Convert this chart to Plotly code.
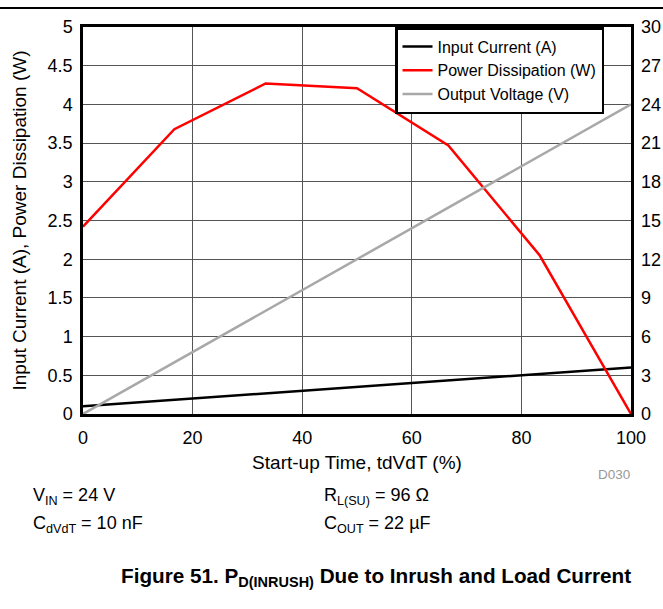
import plotly.graph_objects as go

# Data
t_pct = [0, 16.67, 33.33, 50, 66.67, 83.33, 100]
input_current = [0.10, 0.183, 0.267, 0.35, 0.433, 0.517, 0.60]
power_diss = [2.42, 3.68, 4.27, 4.21, 3.47, 2.05, 0.0]
output_voltage = [0, 4, 8, 12, 16, 20, 24]

left_ticks = [0, 0.5, 1, 1.5, 2, 2.5, 3, 3.5, 4, 4.5, 5]
left_tick_text = ["0", "0.5", "1", "1.5", "2", "2.5", "3", "3.5", "4", "4.5", "5"]
right_ticks = [0, 3, 6, 9, 12, 15, 18, 21, 24, 27, 30]
x_ticks = [0, 20, 40, 60, 80, 100]

FONT = "Liberation Sans, Arial, sans-serif"
W, H = 663, 609
L, R, T, B = 83, 631, 27, 414
pw, ph = R - L, B - T

fig = go.Figure()
fig.add_trace(go.Scatter(x=t_pct, y=input_current, name="Input Current (A)", mode="lines",
                         line=dict(color="black", width=2.5)))
fig.add_trace(go.Scatter(x=t_pct, y=power_diss, name="Power Dissipation (W)", mode="lines",
                         line=dict(color="#FF0000", width=2.5)))
fig.add_trace(go.Scatter(x=t_pct, y=output_voltage, name="Output Voltage (V)", mode="lines",
                         line=dict(color="#A8A8A8", width=2.5), yaxis="y2"))

fig.update_layout(
    width=W, height=H,
    margin=dict(l=L, r=W - R, t=T, b=H - B, pad=0, autoexpand=False),
    paper_bgcolor="white", plot_bgcolor="white",
    font=dict(family=FONT, size=18, color="black"),
    showlegend=True,
    legend=dict(x=(395 - L) / pw, y=1, xanchor="left", yanchor="top",
                bgcolor="white", bordercolor="black", borderwidth=2.5,
                font=dict(size=16), tracegroupgap=0, itemwidth=30,
                traceorder="normal"),
    xaxis=dict(range=[0, 100], tickvals=x_ticks, showgrid=True, gridcolor="#555555", gridwidth=1,
               showline=True, linecolor="black", linewidth=2.5, mirror=True, ticks="",
               zeroline=False, ticklabelstandoff=6, automargin=False,
               title=dict(text="Start-up Time, tdVdT (%)", font=dict(size=19), standoff=9)),
    yaxis=dict(range=[0, 5], tickvals=left_ticks, ticktext=left_tick_text, showgrid=True,
               gridcolor="#555555", gridwidth=1, showline=True, linecolor="black", linewidth=2.5,
               mirror=True, ticks="", zeroline=False, ticklabelstandoff=4, automargin=False,
               title=dict(text="Input Current (A), Power Dissipation (W)", font=dict(size=19), standoff=16)),
    yaxis2=dict(range=[0, 30], tickvals=right_ticks, overlaying="y", side="right", showgrid=False,
                zeroline=False, ticks="", showline=False, ticklabelstandoff=9, automargin=False),
)

# top rule
fig.add_shape(type="line", xref="paper", yref="paper",
              x0=-L / pw, x1=(W - L) / pw, y0=1 + (T - 8) / ph, y1=1 + (T - 8) / ph,
              line=dict(color="black", width=2))

def px_x(x):
    return (x - L) / pw

def px_y(y):
    return (B - y) / ph

anns = [
    dict(text="D030", x=px_x(632), y=px_y(474), xanchor="right", font=dict(size=13.5, color="#999999")),
    dict(text="V<sub>IN</sub> = 24 V", x=px_x(31), y=px_y(496), xanchor="left", font=dict(size=18)),
    dict(text="C<sub>dVdT</sub> = 10 nF", x=px_x(31), y=px_y(524), xanchor="left", font=dict(size=18)),
    dict(text="R<sub>L(SU)</sub> = 96 Ω", x=px_x(322), y=px_y(496), xanchor="left", font=dict(size=18)),
    dict(text="C<sub>OUT</sub> = 22 µF", x=px_x(322), y=px_y(524), xanchor="left", font=dict(size=18)),
    dict(text="<b>Figure 51. P<sub>D(INRUSH)</sub> Due to Inrush and Load Current</b>",
         x=px_x(376), y=px_y(577), xanchor="center", font=dict(size=20.7)),
]
for a in anns:
    fig.add_annotation(xref="paper", yref="paper", showarrow=False, yanchor="middle", **a)

fig.write_html("out.html", config={"displayModeBar": False},
               post_script="document.body.style.margin='0';document.body.style.overflow='hidden';")
